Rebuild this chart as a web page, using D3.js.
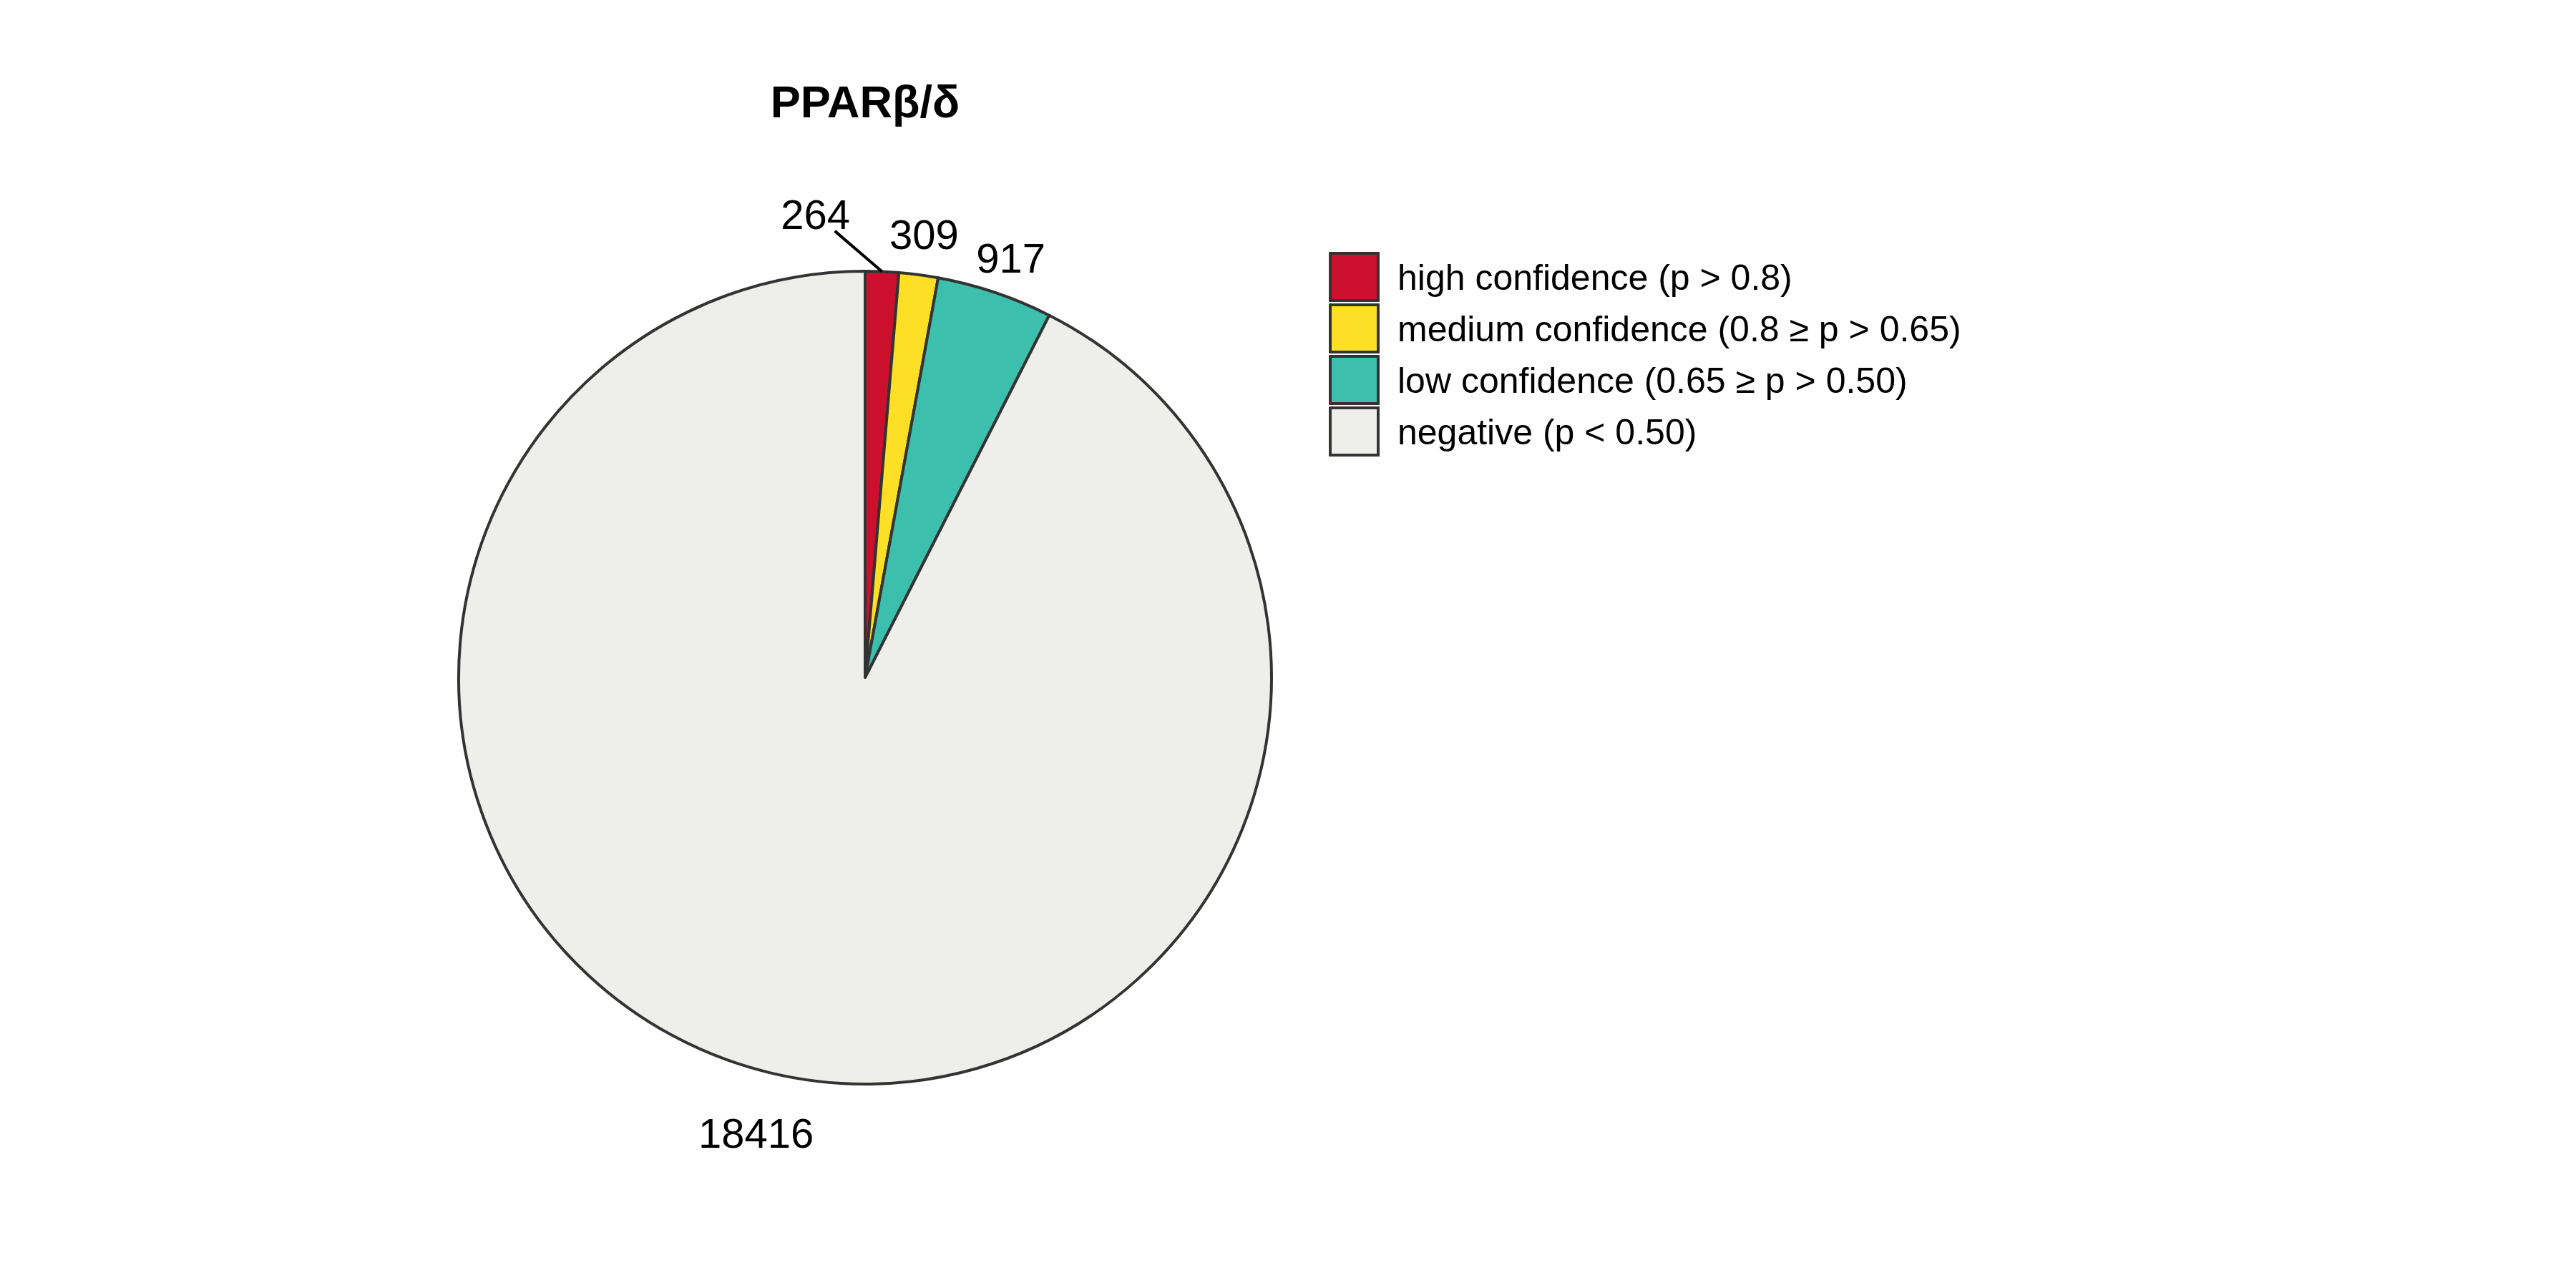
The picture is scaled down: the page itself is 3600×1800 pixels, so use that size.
<!DOCTYPE html>
<html>
<head>
<meta charset="utf-8">
<script src="https://cdnjs.cloudflare.com/ajax/libs/d3/7.8.5/d3.min.js"></script>
<style>
  body { margin: 0; background: #fff; }
  text { font-family: "Liberation Sans", Arial, Helvetica, sans-serif; }
</style>
</head>
<body>
<div class="mainContainer"></div>
<script>
const title = 'PPARβ/δ';
const categories = [
    'high confidence (p > 0.8)',
    'medium confidence (0.8 ≥ p > 0.65)',
    'low confidence (0.65 ≥ p > 0.50)',
    'negative (p < 0.50)'
];
const counts = [264, 309, 917, 18416];
const colors = ['#CD0F2E', '#FDE025', '#3DBFAE', '#EEEFEA'];

const width = 3600, height = 1800;
const cx = 1209, cy = 947, radius = 568;

// label placement: radius factor and angle shift (degrees) per slice
const labelRadius = [1.146, 1.10, 1.092, 1.152];
const labelShift = [-8.5, 0, 0.5, 0];

const svg = d3.select('.mainContainer')
    .append('svg')
    .attr('width', width)
    .attr('height', height);

svg.append('text')
    .attr('x', cx)
    .attr('y', 164)
    .attr('text-anchor', 'middle')
    .attr('font-size', 63)
    .attr('font-weight', 'bold')
    .attr('fill', '#000')
    .text(title);

const data = categories.map((c, i) => ({cat: c, n: counts[i], color: colors[i]}));

const pie = d3.pie()
    .sort(null)
    .value(d => d.n);

const arc = d3.arc()
    .innerRadius(0)
    .outerRadius(radius);

const graph = svg.append('g')
    .attr('transform', `translate(${cx},${cy})`);

const slices = pie(data);

graph.selectAll('path')
    .data(slices)
    .enter()
    .append('path')
    .attr('d', arc)
    .attr('fill', d => d.data.color)
    .attr('stroke', '#333333')
    .attr('stroke-width', 4)
    .attr('stroke-linejoin', 'round');

const polar = (a, r) => [Math.sin(a) * r, -Math.cos(a) * r];

slices.forEach((d, i) => {
    const mid = (d.startAngle + d.endAngle) / 2;
    const a = mid + labelShift[i] * Math.PI / 180;
    const [lx, ly] = polar(a, radius * labelRadius[i]);

    if (labelShift[i] < -2) {
        // leader line from the slice edge toward the label
        const [ex, ey] = polar(mid, radius);
        const f = 0.71;
        graph.append('line')
            .attr('x1', ex).attr('y1', ey)
            .attr('x2', ex + (lx - ex) * f)
            .attr('y2', ey + (ly - ey) * f)
            .attr('stroke', '#000')
            .attr('stroke-width', 4);
    }

    graph.append('text')
        .attr('x', lx)
        .attr('y', ly)
        .attr('dy', '0.35em')
        .attr('text-anchor', 'middle')
        .attr('font-size', 58)
        .attr('fill', '#000')
        .text(d.data.n);
});

// legend
const legend = svg.append('g')
    .attr('transform', 'translate(1857,352)');

const keyW = 71, keyH = 70, pitch = 72;

const items = legend.selectAll('g')
    .data(data)
    .enter()
    .append('g')
    .attr('transform', (d, i) => `translate(0,${i * pitch})`);

items.append('rect')
    .attr('x', 2).attr('y', 2)
    .attr('width', keyW - 4)
    .attr('height', keyH - 4)
    .attr('fill', d => d.color)
    .attr('stroke', '#333333')
    .attr('stroke-width', 4);

items.append('text')
    .attr('x', 96)
    .attr('y', keyH / 2)
    .attr('dy', '0.35em')
    .attr('font-size', 50)
    .attr('fill', '#000')
    .text(d => d.cat);
</script>
</body>
</html>
